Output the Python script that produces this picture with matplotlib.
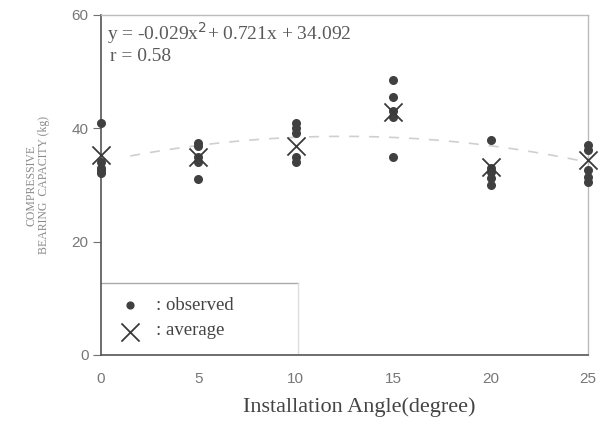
import numpy as np
import matplotlib.pyplot as plt

# observed compressive bearing capacity (kg) at each installation angle
angles = [0, 5, 10, 15, 20, 25]
observed = [
    [41.0, 34.0, 33.0, 32.6, 32.1],
    [37.4, 36.8, 34.0, 35.0, 31.0],
    [40.9, 40.0, 39.2, 34.1, 35.0],
    [48.5, 45.5, 42.0, 35.0, 43.0],
    [37.9, 32.3, 31.2, 30.0, 33.0],
    [37.1, 36.2, 32.6, 31.4, 30.5],
]
average = [35.3, 35.0, 36.8, 42.9, 33.2, 34.4]
coef = [-0.029, 0.721, 34.092]

serif = "Liberation Serif"
sans = "Liberation Sans"
ink = "#3a3a3a"

fig = plt.figure(figsize=(6.1, 4.26), dpi=100)
ax = fig.add_axes([0.1656, 0.1667, 0.7984, 0.7983])

# fitted curve (faint dashed)
xf = np.linspace(1.5, 24.5, 100)
ax.plot(xf, np.polyval(coef, xf), color="#cfcfcf", lw=1.2, ls=(0, (6, 6)), zorder=1)

for a, obs in zip(angles, observed):
    ax.scatter([a] * len(obs), obs, s=30, color="#404040", zorder=3, clip_on=False)
ax.scatter(angles, average, s=170, marker="x", color=ink, linewidths=1.3, zorder=4, clip_on=False)

ax.set_xlim(0, 25)
ax.set_ylim(0, 60)
ax.set_yticks([0, 20, 40, 60])
ax.set_xticks(angles)
ax.tick_params(axis="x", length=0, pad=12, labelsize=11, labelcolor="#777777")
ax.tick_params(axis="y", length=6, color="#707070", labelsize=11, labelcolor="#777777", pad=3)
for lab in ax.get_xticklabels() + ax.get_yticklabels():
    lab.set_family(sans)

for side in ["left", "bottom"]:
    ax.spines[side].set_color("#555555")
    ax.spines[side].set_linewidth(1.2)
for side in ["top", "right"]:
    ax.spines[side].set_color("#bbbbbb")
    ax.spines[side].set_linewidth(1.0)

fig.text(359 / 610, 1 - 407 / 426, "Installation Angle(degree)", family=serif,
         fontsize=16, color="#444444", ha="center", va="center")
ax.set_ylabel("COMPRESSIVE\nBEARING  CAPACITY (kg)", family=serif, fontsize=8.5,
              color="#8a8a8a", linespacing=1.05)
ax.yaxis.set_label_coords(-0.104, 0.5)

ax.text(0.31, 56.8, "y = -0.029x$^2$+ 0.721x + 34.092", family=serif, fontsize=14,
        color="#5a5a5a", va="center")
ax.text(0.46, 52.6, "r = 0.58", family=serif, fontsize=14, color="#5a5a5a", va="center")

# legend box drawn by hand
ax.plot([0, 10.1], [12.7, 12.7], color="#aaaaaa", lw=1.0)
ax.plot([10.1, 10.1], [0, 12.7], color="#dddddd", lw=1.0)
ax.scatter([1.5], [8.8], s=24, color="#404040")
ax.scatter([1.5], [4.1], s=170, marker="x", color=ink, linewidths=1.3)
ax.text(2.8, 8.8, ": observed", family=serif, fontsize=13.5, color="#444444", va="center")
ax.text(2.8, 4.3, ": average", family=serif, fontsize=13.5, color="#444444", va="center")

fig.savefig("out.png", dpi=100)
